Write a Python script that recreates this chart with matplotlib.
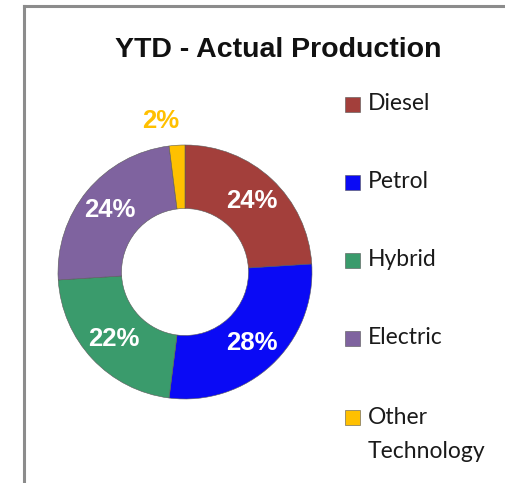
import numpy as np
import matplotlib
matplotlib.use('Agg')
import matplotlib.pyplot as plt
from matplotlib.patches import Rectangle
from matplotlib.lines import Line2D

categories = ['Diesel', 'Petrol', 'Hybrid', 'Electric', 'Other Technology']
legend_labels = ['Diesel', 'Petrol', 'Hybrid', 'Electric', 'Other\nTechnology']
shares = [24, 28, 22, 24, 2]
colors = ['#A33F3B', '#0A0AF5', '#3A9B6C', '#7F639F', '#FFC000']
label_colors = ['white', 'white', 'white', 'white', '#FFC000']

W, H = 506, 483
fig = plt.figure(figsize=(W / 100, H / 100), dpi=100)

# chart border (cropped on right and bottom)
fig.add_artist(Line2D([24 / W, 1], [1 - 6 / H, 1 - 6 / H], color='#8C8C8C', lw=2.2))
fig.add_artist(Line2D([24 / W, 24 / W], [0, 1 - 6 / H], color='#8C8C8C', lw=2.2))

fig.text(278 / W, 1 - 57 / H, 'YTD - Actual Production', ha='center', va='baseline',
         fontsize=20.5, fontweight='bold', family='Liberation Sans', color='#111111')

# donut
cx, cy, r = 185, 272, 127
ax = fig.add_axes([(cx - r) / W, (H - cy - r) / H, 2 * r / W, 2 * r / H])
wedges, _ = ax.pie(shares, colors=colors, startangle=90, counterclock=False,
                   radius=1.0, wedgeprops=dict(width=0.5, edgecolor='#5a5a5a', linewidth=0.4))
ax.set_xlim(-1, 1)
ax.set_ylim(-1, 1)
ax.set_aspect('auto')
ax.axis('off')

for w, val, lc in zip(wedges, shares, label_colors):
    mid = np.deg2rad((w.theta1 + w.theta2) / 2)
    rr = 0.77 if val > 5 else 1.19
    x, y = rr * np.cos(mid), rr * np.sin(mid)
    if val <= 5:
        x -= 0.12
    ax.text(x, y, f'{val}%', ha='center', va='center', fontsize=18.5,
            fontweight='bold', family='Liberation Sans', color=lc)

# legend
ys = [104, 182, 260, 338, 417]
for lab, col, yy in zip(legend_labels, colors, ys):
    fig.add_artist(Rectangle((345 / W, 1 - (yy + 7.5) / H), 15 / W, 15 / H,
                             facecolor=col, edgecolor='#555555', lw=0.4,
                             transform=fig.transFigure))
    lines = lab.split('\n')
    for i, ln in enumerate(lines):
        fig.text(368 / W, 1 - (yy + i * 35) / H, ln, ha='left', va='center',
                 fontsize=16.5, family='Lato', color='#1a1a1a')

fig.savefig('out.png', dpi=100)
